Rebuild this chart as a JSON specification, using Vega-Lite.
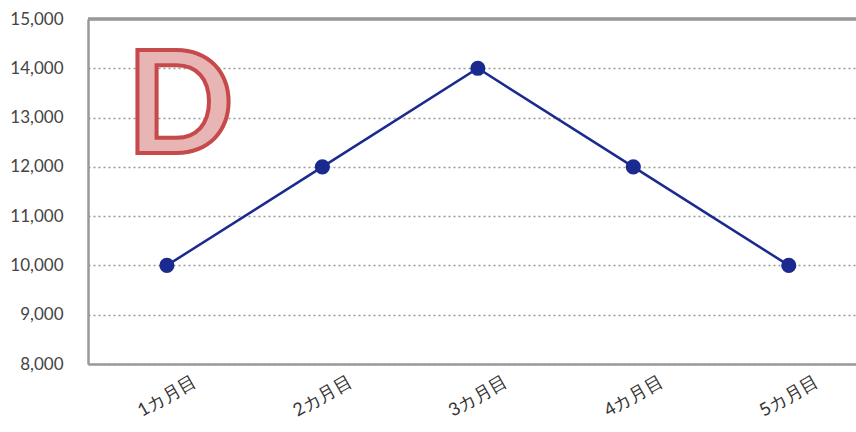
{
  "$schema": "https://vega.github.io/schema/vega-lite/v6.json",
  "autosize": {"type": "none"},
  "padding": {"left": 88, "top": 19, "right": 0, "bottom": 68},
  "width": 768,
  "height": 345,
  "background": "white",
  "config": {"view": {"stroke": null}},
  "data": {"values": [
    {"month": "1カ月目", "value": 10000},
    {"month": "2カ月目", "value": 12000},
    {"month": "3カ月目", "value": 14000},
    {"month": "4カ月目", "value": 12000},
    {"month": "5カ月目", "value": 10000}
  ]},
  "encoding": {
    "x": {"field": "month", "type": "ordinal", "sort": null,
      "scale": {"type": "point", "padding": 0.47, "align": 0.54},
      "axis": {"title": null, "labelAngle": -30, "labelAlign": "center", "labelBaseline": "middle",
        "labelPadding": 32, "ticks": false, "domainColor": "#999999", "domainWidth": 2.5,
        "labelFont": "Lato", "labelFontSize": 18, "labelColor": "#333333", "grid": false}},
    "y": {"field": "value", "type": "quantitative",
      "scale": {"domain": [8000, 15000], "nice": false, "zero": false},
      "axis": {"title": null, "values": [8000, 9000, 10000, 11000, 12000, 13000, 14000, 15000],
        "labelOverlap": false, "ticks": false, "labelPadding": 25, "domainColor": "#999999", "domainWidth": 2.5,
        "gridColor": "#999999", "gridDash": [2, 3], "gridWidth": 1.3,
        "labelFont": "Lato", "labelFontSize": 17, "labelColor": "#444444", "format": ",.0f"}}
  },
  "layer": [
    {"mark": {"type": "rule", "color": "#999999", "strokeWidth": 2.5},
     "encoding": {"x": null, "y": {"datum": 15000, "type": "quantitative"}}},
    {"mark": {"type": "line", "color": "#1b2a8f", "strokeWidth": 2.5}},
    {"mark": {"type": "point", "filled": true, "color": "#1b2a8f", "size": 230, "opacity": 1}},
    {"data": {"values": [{"label": "D", "month": "1カ月目", "value": 13150}]},
     "mark": {"type": "text", "font": "Lato", "fontWeight": "bold", "fontSize": 142,
       "fill": "#e8b5b5", "stroke": "#c64a4c", "strokeWidth": 4, "align": "center", "baseline": "middle", "dx": 13},
     "encoding": {"text": {"field": "label"}}}
  ]
}
